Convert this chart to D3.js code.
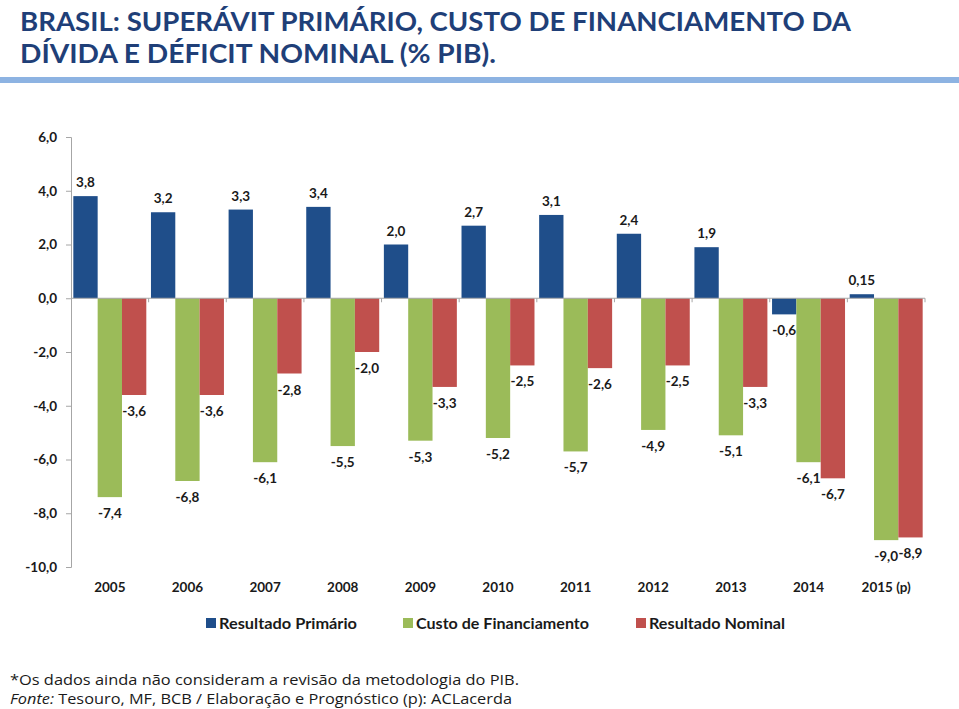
<!DOCTYPE html>
<html><head><meta charset="utf-8">
<script src="https://cdn.jsdelivr.net/npm/d3@7"></script>
<style>body{margin:0;background:#fff;} svg{display:block;}</style>
</head><body>
<script>
const years = ["2005","2006","2007","2008","2009","2010","2011","2012","2013","2014","2015 (p)"];
const primario = [3.8,3.2,3.3,3.4,2.0,2.7,3.1,2.4,1.9,-0.6,0.15];
const custo = [-7.4,-6.8,-6.1,-5.5,-5.3,-5.2,-5.7,-4.9,-5.1,-6.1,-9.0];
const nominal = [-3.6,-3.6,-2.8,-2.0,-3.3,-2.5,-2.6,-2.5,-3.3,-6.7,-8.9];
const primarioLabels = ["3,8","3,2","3,3","3,4","2,0","2,7","3,1","2,4","1,9","-0,6","0,15"];
const seriesNames = ["Resultado Primário","Custo de Financiamento","Resultado Nominal"];
const colors = ["#1f4e8a","#9bbb59","#c0504d"];
const yTicks = [6,4,2,0,-2,-4,-6,-8,-10];

const W=959,H=709;
const svg=d3.select("body").append("svg").attr("width",W).attr("height",H);
const F="Lato, 'Open Sans', sans-serif";
const loc=d3.formatLocale({decimal:",",thousands:".",grouping:[3],currency:["R$",""],minus:"-"});
const fmt=loc.format(".1f");

// title
const title=svg.append("g").attr("font-family",F).attr("font-weight","bold").attr("fill","#1f3f78").attr("font-size",27);
title.append("text").attr("x",20).attr("y",31).attr("textLength",831).attr("lengthAdjust","spacingAndGlyphs").text("BRASIL: SUPERÁVIT PRIMÁRIO, CUSTO DE FINANCIAMENTO DA");
title.append("text").attr("x",20).attr("y",63).attr("textLength",476).attr("lengthAdjust","spacingAndGlyphs").text("DÍVIDA E DÉFICIT NOMINAL (% PIB).");
svg.append("rect").attr("x",0).attr("y",77).attr("width",W).attr("height",6).attr("fill","#8db3e2");

const x0=71,x1=925;
const y=d3.scaleLinear().domain([-10,6]).range([567,137]);
const x=d3.scaleBand().domain(years).range([x0,x1]).paddingInner(0.06).paddingOuter(0.03);
const xs=d3.scaleBand().domain([0,1,2]).range([0,x.bandwidth()]);

// y axis
const yAxis=d3.axisLeft(y).tickValues(yTicks).tickSize(5).tickFormat(fmt);
const ga=svg.append("g").attr("transform",`translate(${x0},0)`).call(yAxis);
ga.select(".domain").attr("stroke","#a6a6a6");
ga.selectAll(".tick line").attr("stroke","#a6a6a6");
ga.selectAll(".tick text").attr("font-family",F).attr("font-weight","bold").attr("font-size",13.5).attr("fill","#1a1a1a").attr("x",-14);

// bars
const data=[primario,custo,nominal];
data.forEach((vals,si)=>{
  svg.append("g").selectAll("rect").data(vals).join("rect")
    .attr("x",(d,i)=>x(years[i])+xs(si))
    .attr("width",xs.bandwidth())
    .attr("y",d=>y(Math.max(0,d)))
    .attr("height",d=>Math.abs(y(d)-y(0)))
    .attr("fill",colors[si]);
});

// zero line + ticks
svg.append("line").attr("x1",x0).attr("x2",x1).attr("y1",y(0)).attr("y2",y(0)).attr("stroke","#a6a6a6");
const bounds=years.map(d=>x(d)-x.step()*x.paddingInner()/2).slice(1).concat([x1]);
svg.append("g").selectAll("line").data(bounds).join("line")
  .attr("x1",d=>d).attr("x2",d=>d).attr("y1",y(0)).attr("y2",y(0)+4).attr("stroke","#a6a6a6");

// labels
const lab=svg.append("g").attr("font-family",F).attr("font-weight","bold").attr("font-size",13.5).attr("fill","#1a1a1a").attr("text-anchor","middle");
data.forEach((vals,si)=>{
  vals.forEach((v,i)=>{
    const cx=x(years[i])+xs(si)+xs.bandwidth()/2;
    const t=si===0?primarioLabels[i]:fmt(v);
    const yy=v>=0?y(v)-9:y(v)+21;
    lab.append("text").attr("x",cx).attr("y",yy).text(t);
  });
});

// x labels
svg.append("g").selectAll("text").data(years).join("text")
  .attr("x",d=>x(d)+x.bandwidth()/2).attr("y",592)
  .attr("text-anchor","middle").attr("font-family",F).attr("font-weight","bold").attr("font-size",13.5).attr("fill","#1a1a1a")
  .text(d=>d);

// legend
const legX=[206,403,636];
const legLen=[138,173,136];
const lg=svg.append("g");
seriesNames.forEach((n,i)=>{
  lg.append("rect").attr("x",legX[i]).attr("y",618).attr("width",10).attr("height",10).attr("fill",colors[i]);
  lg.append("text").attr("x",legX[i]+13).attr("y",629).attr("font-family",F).attr("font-weight","bold").attr("font-size",15.5)
    .attr("textLength",legLen[i]).attr("lengthAdjust","spacingAndGlyphs").attr("fill","#1a1a1a").text(n);
});

// footnotes
const fn=svg.append("g").attr("font-family","'Open Sans', sans-serif").attr("font-size",15).attr("fill","#1a1a1a");
fn.append("text").attr("x",10).attr("y",685).attr("textLength",509).attr("lengthAdjust","spacingAndGlyphs").text("*Os dados ainda não consideram a revisão da metodologia do PIB.");
const t2=fn.append("text").attr("x",10).attr("y",704).attr("textLength",502).attr("lengthAdjust","spacingAndGlyphs");
t2.append("tspan").attr("font-style","italic").text("Fonte:");
t2.append("tspan").text(" Tesouro, MF, BCB / Elaboração e Prognóstico (p): ACLacerda");
</script>
</body></html>
